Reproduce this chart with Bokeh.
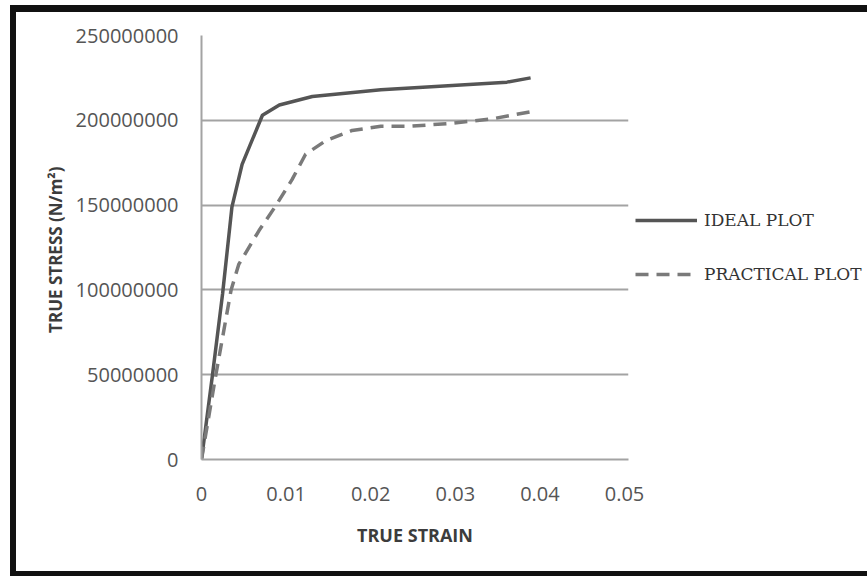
from bokeh.plotting import figure
from bokeh.models import Legend, LegendItem, FixedTicker, Range1d
from bokeh.embed import file_html
from bokeh.resources import INLINE

# ---- data ----
ideal_strain = [0, 0.0013, 0.0025, 0.0036, 0.0048, 0.0072, 0.0092, 0.0131, 0.0212, 0.0361, 0.0389]
ideal_stress = [0, 50e6, 98e6, 149e6, 174e6, 203e6, 209e6, 214e6, 218e6, 222.5e6, 225e6]

practical_strain = [0, 0.0017, 0.0035, 0.0044, 0.0068, 0.0087, 0.0107, 0.0123, 0.0147,
                    0.0178, 0.0212, 0.0247, 0.0298, 0.0345, 0.0389]
practical_stress = [0, 50e6, 100e6, 115e6, 135e6, 149e6, 165e6, 180e6, 188e6,
                    194e6, 196.5e6, 196.5e6, 198.3e6, 201e6, 205e6]

x_ticks = [0, 0.01, 0.02, 0.03, 0.04, 0.05]
x_tick_labels = ["0", "0.01", "0.02", "0.03", "0.04", "0.05"]
y_ticks = [0, 50e6, 100e6, 150e6, 200e6, 250e6]
y_tick_labels = ["0", "50000000", "100000000", "150000000", "200000000", "250000000"]

series_names = ["IDEAL PLOT", "PRACTICAL PLOT"]

# ---- figure ----
p = figure(frame_width=427, frame_height=424, output_backend="svg", toolbar_location=None,
           x_range=Range1d(0, 0.05047), y_range=Range1d(0, 250e6),
           min_border_left=201, min_border_right=239,
           min_border_top=35, min_border_bottom=117)

p.background_fill_color = "white"
p.border_fill_color = "white"
p.border_fill_alpha = 0.0
p.outline_line_color = None
bar = "linear-gradient(#111111, #111111)"
p.styles = {"background": f"{bar} 10px 5px / 6px 571px no-repeat, "
                          f"{bar} 10px 5px / 857px 7px no-repeat, "
                          f"{bar} 10px 571px / 857px 5px no-repeat"}

grey_line = "#a3a3a3"

# axes
for ax in (p.xaxis[0], p.yaxis[0]):
    ax.major_tick_out = 0
    ax.major_tick_in = 0
    ax.minor_tick_out = 0
    ax.minor_tick_in = 0
    ax.axis_line_color = grey_line
    ax.axis_line_width = 2
    ax.major_label_text_font = "Open Sans"
    ax.major_label_text_font_size = "20px"
    ax.major_label_text_color = "#555555"
    ax.axis_label_text_font = "Open Sans"
    ax.axis_label_text_font_style = "bold"
    ax.axis_label_text_color = "#3c3c3c"

p.xaxis.ticker = FixedTicker(ticks=x_ticks)
p.xaxis.major_label_overrides = dict(zip(x_ticks, x_tick_labels))
p.xaxis.major_label_standoff = 27
p.xaxis.axis_label = "TRUE STRAIN"
p.xaxis.axis_label_text_font_size = "18px"
p.xaxis.axis_label_standoff = 19

p.yaxis.ticker = FixedTicker(ticks=y_ticks)
p.yaxis.major_label_overrides = dict(zip(y_ticks, y_tick_labels))
p.yaxis.major_label_standoff = 23
p.yaxis.axis_label = "TRUE STRESS  (N/m\u00b2)"
p.yaxis.axis_label_text_font_size = "17px"
p.yaxis.axis_label_standoff = 6

p.xgrid.visible = False
p.ygrid.grid_line_color = grey_line
p.ygrid.grid_line_width = 2

r_ideal = p.line(ideal_strain, ideal_stress, line_color="#555555", line_width=3.5)
r_prac = p.line(practical_strain, practical_stress, line_color="#7a7a7a", line_width=3.5,
                line_dash="13 8")

legend = Legend(items=[LegendItem(label=series_names[0], renderers=[r_ideal]),
                       LegendItem(label=series_names[1], renderers=[r_prac])],
                location="center_left", orientation="vertical")
legend.margin = 7
legend.padding = 0
legend.border_line_color = None
legend.background_fill_alpha = 0
legend.glyph_width = 62
legend.glyph_height = 20
legend.label_height = 20
legend.spacing = 34
legend.label_standoff = 7
legend.label_text_font = "DejaVu Serif"
legend.label_text_font_size = "17px"
legend.label_text_color = "#333333"
p.add_layout(legend, "right")

open("out.html", "w").write(file_html(p, INLINE))
